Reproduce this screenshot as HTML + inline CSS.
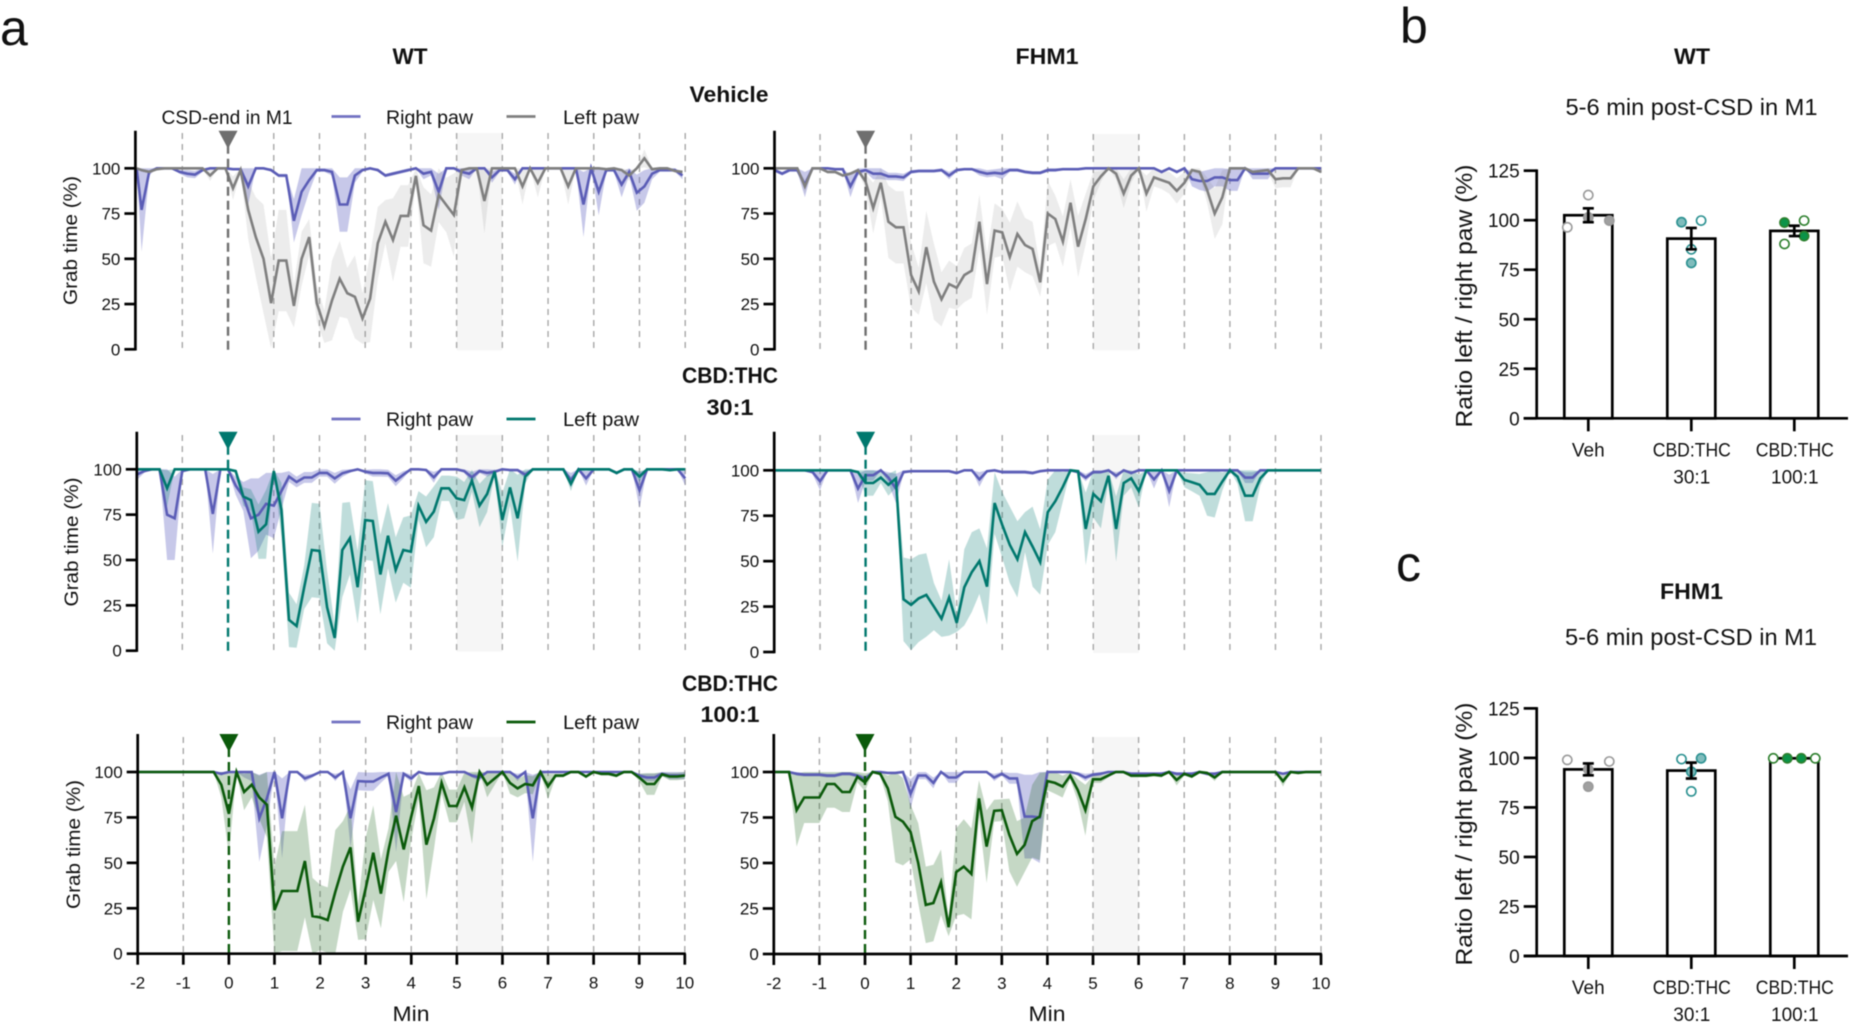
<!DOCTYPE html>
<html lang="en">
<head>
<meta charset="utf-8">
<title>Grab time after CSD in M1</title>
<style>
html,body{margin:0;padding:0;background:#fff;width:1851px;height:1023px;overflow:hidden}
svg{display:block;filter:blur(0.6px)}
text{font-family:"Liberation Sans",sans-serif;fill:#111}
.b{font-weight:bold}
.tick{font-size:17px}
.leg{font-size:19px}
.bt{font-size:19px}
</style>
</head>
<body>
<svg id="figure" width="1851" height="1023" viewBox="0 0 1851 1023" xmlns="http://www.w3.org/2000/svg">
  <text x="0" y="45" font-size="50">a</text>
  <text x="1400" y="43" font-size="50">b</text>
  <text x="1396" y="581" font-size="50">c</text>

  <text class="b" x="410" y="64" font-size="22" text-anchor="middle" textLength="35" lengthAdjust="spacingAndGlyphs">WT</text>
  <text class="b" x="1047" y="64" font-size="22" text-anchor="middle" textLength="63" lengthAdjust="spacingAndGlyphs">FHM1</text>
  <text class="b" x="729" y="102" font-size="22" text-anchor="middle" textLength="79" lengthAdjust="spacingAndGlyphs">Vehicle</text>
  <text class="b" x="730" y="383" font-size="22" text-anchor="middle" textLength="96" lengthAdjust="spacingAndGlyphs">CBD:THC</text>
  <text class="b" x="730" y="415" font-size="22" text-anchor="middle" textLength="47" lengthAdjust="spacingAndGlyphs">30:1</text>
  <text class="b" x="730" y="691" font-size="22" text-anchor="middle" textLength="96" lengthAdjust="spacingAndGlyphs">CBD:THC</text>
  <text class="b" x="730" y="722" font-size="22" text-anchor="middle" textLength="59" lengthAdjust="spacingAndGlyphs">100:1</text>

  <text class="leg" x="227" y="124" text-anchor="middle" textLength="131" lengthAdjust="spacingAndGlyphs">CSD-end in M1</text>

  <g>
    <line x1="331.5" x2="360.5" y1="116.5" y2="116.5" stroke="#7272c2" stroke-width="2.8"/>
    <text class="leg" x="386" y="124" textLength="87" lengthAdjust="spacingAndGlyphs">Right paw</text>
    <line x1="506.5" x2="535.5" y1="116.5" y2="116.5" stroke="#808080" stroke-width="2.8"/>
    <text class="leg" x="563" y="124" textLength="76" lengthAdjust="spacingAndGlyphs">Left paw</text>
  </g>
  <g>
    <line x1="331.5" x2="360.5" y1="419" y2="419" stroke="#7272c2" stroke-width="2.8"/>
    <text class="leg" x="386" y="426" textLength="87" lengthAdjust="spacingAndGlyphs">Right paw</text>
    <line x1="506.5" x2="535.5" y1="419" y2="419" stroke="#00786e" stroke-width="2.8"/>
    <text class="leg" x="563" y="426" textLength="76" lengthAdjust="spacingAndGlyphs">Left paw</text>
  </g>
  <g>
    <line x1="331.5" x2="360.5" y1="722" y2="722" stroke="#7272c2" stroke-width="2.8"/>
    <text class="leg" x="386" y="729" textLength="87" lengthAdjust="spacingAndGlyphs">Right paw</text>
    <line x1="506.5" x2="535.5" y1="722" y2="722" stroke="#0b5a0b" stroke-width="2.8"/>
    <text class="leg" x="563" y="729" textLength="76" lengthAdjust="spacingAndGlyphs">Left paw</text>
  </g>

  <text class="leg" transform="translate(77,240.5) rotate(-90)" text-anchor="middle" textLength="129" lengthAdjust="spacingAndGlyphs">Grab time (%)</text>
  <text class="leg" transform="translate(78,542) rotate(-90)" text-anchor="middle" textLength="129" lengthAdjust="spacingAndGlyphs">Grab time (%)</text>
  <text class="leg" transform="translate(80,844.5) rotate(-90)" text-anchor="middle" textLength="129" lengthAdjust="spacingAndGlyphs">Grab time (%)</text>
  <text x="411" y="1021" font-size="21" text-anchor="middle" textLength="37" lengthAdjust="spacingAndGlyphs">Min</text>
  <text x="1047" y="1021" font-size="21" text-anchor="middle" textLength="37" lengthAdjust="spacingAndGlyphs">Min</text>

  <g id="panel-wt-vehicle"></g>
  <g id="panel-fhm1-vehicle"></g>
  <g id="panel-wt-30"></g>
  <g id="panel-fhm1-30"></g>
  <g id="panel-wt-100"></g>
  <g id="panel-fhm1-100"></g>

  <text class="b" x="1692" y="64" font-size="22" text-anchor="middle" textLength="36" lengthAdjust="spacingAndGlyphs">WT</text>
  <text x="1691.5" y="115" font-size="23" text-anchor="middle" textLength="252" lengthAdjust="spacingAndGlyphs">5-6 min post-CSD in M1</text>
  <text transform="translate(1472,296) rotate(-90)" font-size="23" text-anchor="middle" textLength="263" lengthAdjust="spacingAndGlyphs">Ratio left / right paw (%)</text>
  <g id="bars-wt"></g>

  <text class="b" x="1691.5" y="599" font-size="22" text-anchor="middle" textLength="63" lengthAdjust="spacingAndGlyphs">FHM1</text>
  <text x="1691" y="645" font-size="23" text-anchor="middle" textLength="252" lengthAdjust="spacingAndGlyphs">5-6 min post-CSD in M1</text>
  <text transform="translate(1472,834) rotate(-90)" font-size="23" text-anchor="middle" textLength="263" lengthAdjust="spacingAndGlyphs">Ratio left / right paw (%)</text>
  <g id="bars-fhm1"></g>
</svg>

<script>
// ---------- Axis labels ----------
const timeTicks = [-2,-1,0,1,2,3,4,5,6,7,8,9,10];
const grabTicks = [0,25,50,75,100];
const ratioTicks = [0,25,50,75,100,125];

// ---------- WT vehicle ----------
const wtVehLeft = [
100,99,98,99.5,100,100,100,100,100,100,
96,100,100,89,99,77,62,50,25.5,49,
49,24,50,62,25.5,12.5,27,39,31,29,
17,28,58.6,70.5,60.4,73.7,73.7,95.8,68.5,65.6,
85.3,79.7,74.2,99,100,100,82,100,100,100,
100,90,100,92,100,100,100,90,100,100,
100,100,99.5,100,99,96,100,105.5,99.5,100,
100,98.5,98];
const wtVehLeftSem = [
0,1,1,0.5,0,0,0,0,0,0,
3,0,0,6.5,1,16,22,30,25,28,
28,12,15,10,10,9,22,21,14,23,
14,24,20,12,23,17,17,4,21,20,
15,15,23,1,0,0,18,0,0,0,
0,10,0,8,0,0,0,10,0,0,
0,0,0.5,0,1,3,0,5,0.5,0,
0,1,1];
const wtVehRight = [
100,77,98,100,100,100,98,97,96.5,99,
100,100,100,99.5,99.5,90,100,100,99,96,
96,71,87,93.5,99,99,98,80,80,96,
99,100,99,96,97,98,99,100,97,98,
87,100,100,98,97,100,100,95,99,99,
94,100,100,100,100,100,100,100,100,80,
100,87,99,99,91,98,86.5,90,97,99,
99,99,96];
const wtVehRightSem = [
0,23,2,0,0,0,1,2,2,1,
0,0,0,0.5,0.5,10,0,0,1,1,
1,12,13,6.5,1,1,2,15,15,4,
1,0,1,1,1,1,1,0,3,2,
10,0,0,2,3,0,0,3,1,1,
3,0,0,0,0,0,0,0,0,18,
0,13,1,1,7,2,10,9,3,1,
1,1,2];

// ---------- FHM1 vehicle ----------
const fhmVehLeft = [
100,100,100,100,90,100,100,98,98,96,
97,99,92.6,78,92,70.5,67.4,67.4,41,32,
56.4,37.4,27.6,36,34,41,43.5,70.5,36,65.6,
64.6,51,63.7,57.6,55.4,37,75,72,59.5,81,
56.7,72,90,95.5,100,97,86,96,100,86,
95,93.5,92,87.5,92,99,98,88,75,84,
100,100,100,98,98.5,99,94,94.5,94.5,100,
100,100,98];
const fhmVehLeftSem = [
0,0,0,0,4,0,0,1,1,1,
1,1,4,14,8,20,20,20,18,13,
20,21,15,13,12,15,15,15,17,15,
13,19,18,15,15,8,18,13,14,13,
17,14,8,3,0,3,8,4,0,10,
5,5,6,7,6,1,2,7,14,15,
0,0,0,1,1,1,5,5,5,0,
0,0,1];
const fhmVehRight = [
99,97,99,99,91,100,100,100,99.5,99.5,
90,98,99,97,97,95.5,95.5,95,98,98.5,
98.5,98.5,99,96,99,99.5,99.5,98,97,97.5,
97,99,99,98,97.5,97.5,99,99,99.5,99.5,
99.5,100,100,100,100,100,100,100,100,100,
100,98,100,98,100,94,93,93,95,95,
93.5,93.5,100,97,97,97,100,100,100,100,
100,100,100];
const fhmVehRightSem = [
1,1,1,1,7,0,0,0,0.5,0.5,
6,2,1,3,3,2,2,2,1,1,
1,1,1,2,1,0.5,0.5,2,2,2,
3,1,1,1,1,1,1,1,0.5,0.5,
0.5,0,0,0,0,0,0,0,0,0,
0,1,0,1,0,4,5,6,5,5,
6,6,0,3,3,3,0,0,0,0,
0,1,1];

// ---------- WT CBD:THC 30:1 ----------
const wt30Left = [
100,100,100,100,89.5,100,100,100,100,100,
100,100,100,99,85,83,65.6,69.7,99,77.6,
17,13.6,35,55.5,55,24,7,55.5,62,35,
72,71.5,42,63.4,44.5,55.5,54.6,80,71,76.6,
89.5,89.5,84,83,93.7,80,86.4,98.7,72,90,
73,96,100,100,100,100,100,92,100,100,
100,100,100,98,100,100,96,100,100,100,
99.5,100,100];
const wt30LeftSem = [
0,0,0,0,10,0,0,0,0,0,
0,0,0,1,5,6,15,19,1,15,
15,12,12,26,26,20,7,26,20,20,
22,22,22,18,18,18,20,8,14,14,
7,7,12,10,6,12,10,2,15,10,
24,4,0,0,0,0,0,4,0,0,
0,0,0,1,0,0,3,0,0,0,
0.5,0,0];
const wt30Right = [
97,99,100,100,75,73,99,100,100,100,
75.4,100,100,91,85,73,75,81,80,88,
96,93,95.5,95.5,98,98,95,97.8,99,100,
98.7,98,98,97.8,93.7,97,100,100,99.6,95.6,
100,100,100,99,95.6,99,98,98.7,100,99.6,
99.6,97,100,100,100,100,100,94,100,95,
100,100,100,98,100,100,88.5,100,100,100,
100,100,95];
const wt30RightSem = [
3,1,0,0,25,23,1,0,0,0,
22,0,0,5,8,22,20,17,18,10,
3,3,3,3,2,2,3,2,1,0,
1,2,2,2,3,2,0,0,1,3,
0,0,0,1,3,1,2,1,0,1,
1,2,0,0,0,0,0,4,0,4,
0,0,0,1,0,0,10,0,0,0,
0,0,4];

// ---------- FHM1 CBD:THC 30:1 ----------
const fhm30Left = [
100,100,100,100,100,100,100,100,100,100,
100,99,93,93,96,92,95.5,29,26,29.5,
31.4,25,18.3,30,16,35.6,44,50,36,82,
70,59,51,66,58,49.5,77,83,91,100,
99.5,67.7,87,83,97,67.7,93,95.6,88.6,100,
100,100,100,100,94.7,93.4,92,87,87,93.8,
100,96.5,86,86,95.6,100,100,100,100,100,
100,100,100];
const fhm30LeftSem = [
0,0,0,0,0,0,0,0,0,0,
0,1,7,7,3,6,5,23,25,24,
23,13,10,21,5,21,22,18,21,17,
18,21,21,11,22,18,18,17,8,0,
1,20,13,15,3,18,7,5,9,0,
0,0,0,0,4,5,6,12,13,5,
0,4,14,14,4,0,0,0,0,0,
0,0,0];
const fhm30Right = [
100,100,100,100,100,99,94,100,100,100,
100,90,97.3,97.3,100,96,90,99,99.5,99.5,
99.5,99.5,99.5,99.5,98.5,100,100,95,99.5,100,
99,99,99,99,98.5,99.5,100,100,100,100,
99,96,99,99,100,97,100,98.5,100,100,
95,100,88.6,100,100,100,100,100,100,100,
100,100,96,96,100,100,100,100,100,100,
100,100,100];
const fhm30RightSem = [
0,0,0,0,0,1,5,0,0,0,
0,8,3,3,0,3,8,1,0.5,0.5,
0.5,0.5,0.5,0.5,1,0,0,4,0.5,0,
1,1,1,1,1,0.5,0,0,0,0,
1,2,1,1,0,2,0,1,0,0,
5,0,9,0,0,0,0,0,0,0,
0,0,3,3,0,0,0,0,0,0,
0,0,0];

// ---------- WT CBD:THC 100:1 ----------
const wt100Left = [
100,100,100,100,100,100,100,100,100,100,
100,93,77,100,89,93,86,82,24,34.5,
34.5,34.5,51,20.7,20,18.5,34,48,58.5,17.6,
36,55.6,33,57,76,57.4,75.4,92.3,60,74.5,
94,81.3,81.3,91.6,80.4,100,93,96.5,100,94,
91,93.4,92.7,100,92,98,98,100,100,97.5,
100,99,99,98,100,100,97,93.4,93.4,98.7,
97.5,97.5,98];
const wt100LeftSem = [
0,0,0,0,0,0,0,0,0,0,
0,7,23,0,10,7,12,18,24,33,
33,33,31,21,18,18,34,25,23,10,
28,26,19,12,25,29,13,7,30,17,
6,9,9,8,20,0,7,3.5,0,6,
5,5,5,0,7,1,1,0,0,1,
0,1,1,1,0,0,2,6,6,1,
2,2,2];
const wt100Right = [
100,100,100,100,100,100,100,100,100,100,
100,99,100,100,100,100,74.5,85.5,100,74.5,
100,100,96.5,98,100,100,97,100,74.5,95,
94.7,94.7,97,99,78,99,96.5,100,99,99,
99,100,100,100,98,97,100,100,100,100,
97,100,74.5,100,100,100,100,100,100,100,
100,100,100,100,100,100,98,97,97,99,
98,98,98];
const wt100RightSem = [
0,0,0,0,0,0,0,0,0,0,
0,1,0,0,3,5,24,15,0,22,
0,0,2,1,0,0,2,0,16,5,
5,5,3,1,22,1,2,0,1,1,
1,0,0,0,1,2,0,0,0,0,
2,0,24,0,0,0,0,0,0,0,
0,0,0,0,0,0,1,2,2,1,
2,2,2];

// ---------- FHM1 CBD:THC 100:1 ----------
const fhm100Left = [
100,100,100,79,86,86,86,93.4,93.4,89,
89,97.4,94.3,100,99,91,75.4,72.7,67,50,
27,28,39.4,14.7,45,48,44,85.5,59,78.7,
79,65.4,55,60,73,75.5,95,94,92,98,
90,79,96,96,98,100,100,98,98,98,
98.5,98,100,95.6,99,97.6,100,99.5,97,100,
100,100,100,100,100,100,100,95,100,99.5,
100,100,100];
const fhm100LeftSem = [
0,0,0,20,14,14,14,13,13,11,
11,3,5,0,1,7,25,24,15,22,
21,21,18,5,24,26,25,10,20,6,
6,20,18,15,20,24,5,6,6,2,
6,14,2,2,1,0,0,1,1,1,
1,1,0,3,1,1,0,0.5,2,0,
0,0,0,0,0,0,0,3,0,0.5,
0,0,0];
const fhm100Right = [
100,100,100,99,98.5,98.5,98.5,98,98,99,
99,98,96,100,100,99.5,99.5,100,88,98,
98,94,100,97,97,100,100,100,100,97,
99,96.5,96.5,75.5,75.5,75,100,100,100,100,
99,97,98.5,99,100,100,100,99,99,99,
99,99,100,99,99,99,100,99,99,100,
100,100,100,100,100,100,100,99,100,100,
100,100,100];
const fhm100RightSem = [
0,0,0,1,1,1,1,1,1,1,
1,1,2,0,0,0.5,0.5,0,8,2,
2,3,0,3,3,0,0,0,0,2,
1,3,3,23,23,25,0,0,0,0,
1,2,1,1,0,0,0,1,1,1,
1,1,0,1,1,1,0,1,1,0,
0,0,0,0,0,0,0,0,0,0,
0,0,0];

// ---------- Bar charts ----------
const barGroups = ["Veh","CBD:THC|30:1","CBD:THC|100:1"];
const wtBarMeans = [102.5,90.7,94.6];
const wtBarSems = [3.5,5.4,2.6];
const fhmBarMeans = [94.2,93.6,99.8];
const fhmBarSems = [3,4,0];

const wtVehPoints = [96.4,112.7,101.4,99.8];
const wtVehFilled = [0,0,1,1];
const wtVehSlots = [-3,0,0,3];
const wt30Points = [99,99.8,85.3,78.4];
const wt30Filled = [1,0,0,1];
const wt30Slots = [-1.4,1.4,0,0];
const wt100Points = [98.8,99.8,92,88];
const wt100Filled = [1,0,1,0];
const wt100Slots = [-1.4,1.4,1.4,-1.4];

const fhmVehPoints = [99,98.2,94.2,85.5];
const fhmVehFilled = [0,0,1,1];
const fhmVehSlots = [-3,3,0,0];
const fhm30Points = [99.4,99.8,93,83.1];
const fhm30Filled = [0,1,1,0];
const fhm30Slots = [-1.4,1.4,0,0];
const fhm100Points = [99.8,99.8,99.8,99.8];
const fhm100Filled = [0,1,1,0];
const fhm100Slots = [-3,-1,1,3];

// ---------- Helpers ----------
const NS = "http://www.w3.org/2000/svg";
function make(tag, attrs, parent) {
  const el = document.createElementNS(NS, tag);
  for (const k in attrs) el.setAttribute(k, attrs[k]);
  parent.appendChild(el);
  return el;
}

const RIGHT_LINE = "#5b5db6";
const RIGHT_BAND = "rgba(92,95,190,0.34)";

function drawTimePanel(id, geo, color, bandColor, markerColor, left, leftSem, right, rightSem, showXAxis) {
  const g = document.getElementById(id);
  const xScale = t => geo.xMin + (t + 2) * (geo.xMax - geo.xMin) / 12;
  const yScale = v => geo.y0 - v * (geo.y0 - geo.y100) / 100;
  const indexX = i => xScale(i === 0 ? -2 : -2 + (i + (geo.shift || 0)) / 6);

  const shade = make("rect", {x: xScale(5), y: geo.gridTop, width: xScale(6) - xScale(5), height: geo.y0 - geo.gridTop + 1, fill: "#f6f6f6"}, g);
  
  

  timeTicks.forEach(t => {
    if (t === -2 || t === 0) return;
    const grid = make("line", {x1: xScale(t), x2: xScale(t), y1: geo.gridTop, y2: geo.y0, stroke: "#a8a8a8", "stroke-width": 1.4, "stroke-dasharray": "6 5"}, g);
    
    
  });

  function band(mean, sem, fill, name) {
    const upper = mean.map((m, i) => {
      const u = m + sem[i];
      return m > 100 ? u : Math.min(u, 100);
    });
    const lower = mean.map((m, i) => Math.max(m - sem[i], 0));
    let pts = upper.map((v, i) => indexX(i).toFixed(1) + "," + yScale(v).toFixed(1));
    for (let i = lower.length - 1; i >= 0; i--) pts.push(indexX(i).toFixed(1) + "," + yScale(lower[i]).toFixed(1));
    const el = make("polygon", {points: pts.join(" "), fill: fill}, g);
    
    
  }
  function line(mean, stroke, name) {
    const pts = mean.map((v, i) => indexX(i).toFixed(1) + "," + yScale(v).toFixed(1)).join(" ");
    const el = make("polyline", {points: pts, fill: "none", stroke: stroke, "stroke-width": 2.6, "stroke-linejoin": "miter"}, g);
    
    
  }
  band(right, rightSem, RIGHT_BAND, 'right-paw-sem-band');
  band(left, leftSem, bandColor, 'left-paw-sem-band');
  line(right, RIGHT_LINE, 'right-paw-line');
  line(left, color, 'left-paw-line');

  const x0 = xScale(0);
  const cs = make("line", {x1: x0, x2: x0, y1: geo.top + 14, y2: geo.y0 + 1, stroke: markerColor, "stroke-width": 2.4, "stroke-dasharray": "9 5"}, g);
  
  
  const tri = make("polygon", {points: (x0 - 9.5) + "," + geo.top + " " + (x0 + 9.5) + "," + geo.top + " " + x0 + "," + (geo.top + 18), fill: markerColor}, g);
  
  

  const yAxis = make("line", {x1: geo.axisX, x2: geo.axisX, y1: geo.top, y2: geo.y0 + 1.2, stroke: "#000", "stroke-width": 2.7}, g);
  
  
  grabTicks.forEach(v => {
    const tk = make("line", {x1: geo.axisX - 11, x2: geo.axisX, y1: yScale(v), y2: yScale(v), stroke: "#000", "stroke-width": 2.7}, g);
    
    
    const lb = make("text", {x: geo.axisX - 15, y: yScale(v) + 6, "text-anchor": "end", class: "tick"}, g);
    lb.textContent = v;
    
    
  });

  if (showXAxis) {
    const xAxis = make("line", {x1: geo.axisX - 1, x2: xScale(10) + 1, y1: geo.y0, y2: geo.y0, stroke: "#000", "stroke-width": 2.7}, g);
    
    
    timeTicks.forEach(t => {
      const tk = make("line", {x1: xScale(t), x2: xScale(t), y1: geo.y0, y2: geo.y0 + 11, stroke: "#000", "stroke-width": 2.7}, g);
      
      
      const lb = make("text", {x: xScale(t), y: geo.y0 + 35, "text-anchor": "middle", class: "tick"}, g);
      lb.textContent = t;
      
      
    });
  }
}

function drawBarChart(id, geo, means, sems, pointSets) {
  const g = document.getElementById(id);
  const yScale = v => geo.y0 - v * geo.unit;
  const xCat = i => geo.firstX + i * geo.step;
  const SLOT = 7;

  ratioTicks.forEach(v => {
    const tk = make("line", {x1: geo.axisX - 13, x2: geo.axisX, y1: yScale(v), y2: yScale(v), stroke: "#000", "stroke-width": 2.7}, g);
    
    
    const lb = make("text", {x: geo.axisX - 17, y: yScale(v) + 7, "text-anchor": "end", class: "bt"}, g);
    lb.textContent = v;
    
    
  });

  means.forEach((m, i) => {
    const bar = make("rect", {x: xCat(i) - 24, y: yScale(m), width: 48, height: geo.y0 - yScale(m), fill: "#fff", stroke: "#000", "stroke-width": 2.7}, g);
    
    
  });

  pointSets.forEach((set, i) => {
    set.values.forEach((v, j) => {
      const filled = set.filled[j];
      const c = make("circle", {cx: xCat(i) + set.slots[j] * SLOT, cy: yScale(v), r: 4.6, fill: filled ? set.fill : "#fff", stroke: set.stroke, "stroke-width": 1.6}, g);
      
      
    });
  });

  means.forEach((m, i) => {
    const s = sems[i];
    if (s <= 0) return;
    const x = xCat(i);
    const err = make("path", {d: "M" + (x - 5.5) + " " + yScale(m + s) + "H" + (x + 5.5) + "M" + x + " " + yScale(m + s) + "V" + yScale(m - s) + "M" + (x - 5.5) + " " + yScale(m - s) + "H" + (x + 5.5), fill: "none", stroke: "#000", "stroke-width": 2.7}, g);
    
    
  });

  const yAxis = make("line", {x1: geo.axisX, x2: geo.axisX, y1: yScale(125) - 1.3, y2: geo.y0, stroke: "#000", "stroke-width": 2.7}, g);
  
  
  const xAxis = make("line", {x1: geo.axisX - 13, x2: 1848, y1: geo.y0, y2: geo.y0, stroke: "#000", "stroke-width": 2.7}, g);
  
  

  barGroups.forEach((label, i) => {
    const tk = make("line", {x1: xCat(i), x2: xCat(i), y1: geo.y0, y2: geo.y0 + 13, stroke: "#000", "stroke-width": 2.7}, g);
    
    
    label.split("|").forEach((part, k) => {
      const lb = make("text", {x: xCat(i) + (i === 0 ? 0 : 0.5), y: geo.y0 + 38 + k * 27, "text-anchor": "middle", class: "bt"}, g);
      lb.textContent = part;
      if (part.indexOf("CBD") === 0) {
        lb.setAttribute('textLength', '78');
        lb.setAttribute('lengthAdjust', 'spacingAndGlyphs');
      }
      
      
    });
  });
}

// ---------- Draw ----------
const GREY = "#7f7f7f", GREY_BAND = "rgba(128,128,128,0.15)";
const TEAL = "#00786e", TEAL_BAND = "rgba(0,120,110,0.25)";
const GREEN = "#0b5a0b", GREEN_BAND = "rgba(30,105,30,0.26)";

drawTimePanel("panel-wt-vehicle", {xMin:136.6, xMax:685.2, y0:349.3, y100:168.3, top:130.7, gridTop:133, axisX:135.4, shift:-0.35}, GREY, GREY_BAND, "#6f6f6f", wtVehLeft, wtVehLeftSem, wtVehRight, wtVehRightSem, false);
drawTimePanel("panel-fhm1-vehicle", {xMin:774.5, xMax:1321, y0:349.3, y100:168.3, top:130.7, gridTop:134, axisX:774.5}, GREY, GREY_BAND, "#6f6f6f", fhmVehLeft, fhmVehLeftSem, fhmVehRight, fhmVehRightSem, false);
drawTimePanel("panel-wt-30", {xMin:136.6, xMax:685.2, y0:650.7, y100:469.3, top:431.7, gridTop:435, axisX:136.8}, TEAL, TEAL_BAND, TEAL, wt30Left, wt30LeftSem, wt30Right, wt30RightSem, false);
drawTimePanel("panel-fhm1-30", {xMin:774.5, xMax:1321, y0:652, y100:470.3, top:431.7, gridTop:435, axisX:774.2}, TEAL, TEAL_BAND, TEAL, fhm30Left, fhm30LeftSem, fhm30Right, fhm30RightSem, false);
drawTimePanel("panel-wt-100", {xMin:137.7, xMax:684.8, y0:953.7, y100:772, top:734, gridTop:737, axisX:137.7}, GREEN, GREEN_BAND, GREEN, wt100Left, wt100LeftSem, wt100Right, wt100RightSem, true);
drawTimePanel("panel-fhm1-100", {xMin:773.8, xMax:1321, y0:954, y100:772, top:734, gridTop:737, axisX:773.8}, GREEN, GREEN_BAND, GREEN, fhm100Left, fhm100LeftSem, fhm100Right, fhm100RightSem, true);

drawBarChart("bars-wt", {y0:418.3, unit:1.981, axisX:1536.7, firstX:1588.3, step:103}, wtBarMeans, wtBarSems, [
  {values:wtVehPoints, filled:wtVehFilled, slots:wtVehSlots, fill:"#a0a0a0", stroke:"#9a9a9a"},
  {values:wt30Points, filled:wt30Filled, slots:wt30Slots, fill:"#7fbcbc", stroke:"#2a9090"},
  {values:wt100Points, filled:wt100Filled, slots:wt100Slots, fill:"#0b9348", stroke:"#2d7f2d"}
]);
drawBarChart("bars-fhm1", {y0:956, unit:1.981, axisX:1536.7, firstX:1588.3, step:103}, fhmBarMeans, fhmBarSems, [
  {values:fhmVehPoints, filled:fhmVehFilled, slots:fhmVehSlots, fill:"#a0a0a0", stroke:"#9a9a9a"},
  {values:fhm30Points, filled:fhm30Filled, slots:fhm30Slots, fill:"#7fbcbc", stroke:"#2a9090"},
  {values:fhm100Points, filled:fhm100Filled, slots:fhm100Slots, fill:"#0b9348", stroke:"#2d7f2d"}
]);
</script>
</body>
</html>
